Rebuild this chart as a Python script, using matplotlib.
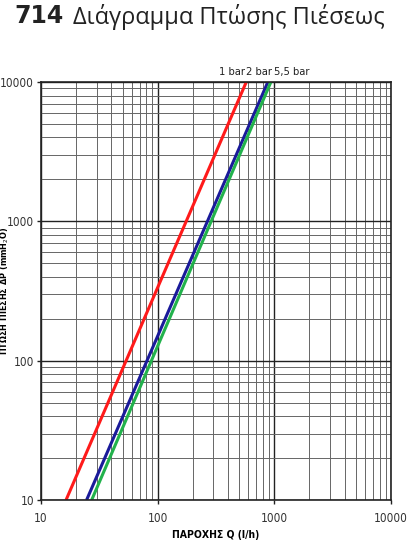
import matplotlib.pyplot as plt
from matplotlib.ticker import LogLocator, FixedLocator, NullFormatter

# flow Q (l/h) at the bottom (10 mmH2O) and top (10000 mmH2O) of the chart
dp_ends = [10, 10000]
q_1bar = [16.4, 575]
q_2bar = [24.6, 880]
q_55bar = [27.2, 935]

series_names = ["1 bar", "2 bar", "5,5 bar"]
x_ticks = [10, 100, 1000, 10000]
y_ticks = [10, 100, 1000, 10000]

plt.rcParams['font.family'] = ['DejaVu Sans']
plt.rcParams['font.stretch'] = 'condensed'

fig = plt.figure(figsize=(4.09, 5.40), dpi=100)
ax = fig.add_axes([0.1002, 0.0741, 0.8557, 0.774])

ax.set_xscale('log')
ax.set_yscale('log')
ax.set_xlim(10, 10000)
ax.set_ylim(10, 10000)

# grid
ax.xaxis.set_minor_locator(LogLocator(base=10, subs=range(2, 10)))
ax.yaxis.set_minor_locator(LogLocator(base=10, subs=range(2, 10)))
ax.xaxis.set_minor_formatter(NullFormatter())
ax.yaxis.set_minor_formatter(NullFormatter())
ax.grid(True, which='major', color='#222222', linewidth=1.0)
ax.grid(True, which='minor', color='#666666', linewidth=0.7)
ax.set_axisbelow(True)

ax.plot(q_1bar, dp_ends, color='#ff1a1a', linewidth=2.2, solid_capstyle='butt')
ax.plot(q_2bar, dp_ends, color='#1a1a9a', linewidth=2.2, solid_capstyle='butt')
ax.plot(q_55bar, dp_ends, color='#22b24c', linewidth=2.2, solid_capstyle='butt')

ax.xaxis.set_major_locator(FixedLocator(x_ticks))
ax.yaxis.set_major_locator(FixedLocator(y_ticks))
ax.set_xticklabels([str(v) for v in x_ticks])
ax.set_yticklabels([str(v) for v in y_ticks])
ax.tick_params(which='major', direction='out', length=3, width=1, labelsize=8.5,
               color='#222222', labelcolor='#333333', pad=2)
ax.tick_params(which='minor', length=0)
ax.tick_params(axis='x', pad=6)

for s in ax.spines.values():
    s.set_color('#222222')
    s.set_linewidth(1.2)

ax.set_xlabel('ΠΑΡΟΧΗΣ Q (l/h)', fontsize=7.5, fontweight='bold', labelpad=3)
ax.set_ylabel('ΠΤΩΣΗ ΠΙΕΣΗΣ ΔP (mmH$_2$O)', fontsize=6.5, fontweight='bold')
ax.yaxis.set_label_coords(-0.085, 0.5)

# series labels above the top of the chart
for xf, name in zip([0.546, 0.624, 0.716], series_names):
    ax.text(xf, 1.012, name, fontsize=8, ha='center', va='bottom',
            transform=ax.transAxes, color='#222222')

fig.text(0.035, 0.971, '714', fontsize=17, fontweight='bold', ha='left', va='center',
         color='#222222', fontstretch='normal')
fig.text(0.178, 0.969, 'Διάγραμμα Πτώσης Πιέσεως', fontsize=17, ha='left', va='center',
         family=['Open Sans', 'DejaVu Sans'], color='#222222', fontstretch='normal')

fig.savefig('out.png', dpi=100)
